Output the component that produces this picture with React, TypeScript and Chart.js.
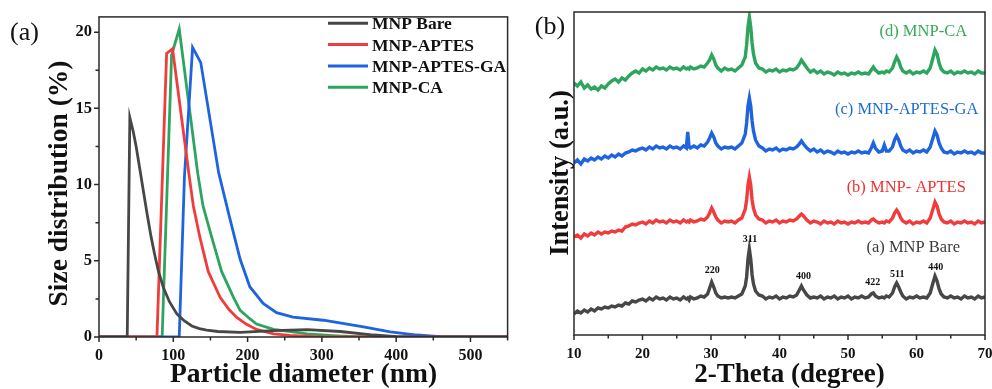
import React, { useEffect, useRef } from "react";
import { Chart, registerables } from "chart.js";

Chart.register(...registerables);

const SERIF = "'Liberation Serif', 'Times New Roman', Times, serif";

// ---------- Panel (a): DLS size distribution ----------
const dlsNames = ["MNP Bare", "MNP-APTES", "MNP-APTES-GA", "MNP-CA"];
const dlsColors = ["#474747", "#f03c3c", "#1e64e0", "#2ea55e"];

const bareX = [0, 38, 41.5, 46, 50, 55, 60, 65, 70, 75, 80, 87, 95, 105, 115, 125, 135, 145, 160, 190, 235, 280, 325, 370, 400, 420, 550];
const bareY = [0, 0, 14.4, 13.5, 12.5, 11.0, 9.5, 8.0, 6.6, 5.4, 4.3, 3.2, 2.3, 1.5, 1.05, 0.72, 0.55, 0.45, 0.36, 0.3, 0.42, 0.48, 0.36, 0.13, 0.03, 0, 0];

const aptesX = [0, 78, 91, 99, 121, 127, 136, 147, 163, 175, 185, 198, 212, 235, 257, 290, 320, 550];
const aptesY = [0, 0, 18.6, 18.9, 10.7, 8.6, 6.5, 4.3, 2.6, 1.8, 1.3, 0.85, 0.5, 0.2, 0.1, 0.02, 0, 0];

const gaX = [0, 108, 115, 126, 137, 161, 175, 190, 203, 221, 239, 261, 302, 356, 392, 428, 459, 475, 550];
const gaY = [0, 0, 10.5, 19.0, 18.0, 10.8, 8.0, 5.1, 3.3, 2.2, 1.6, 1.31, 1.1, 0.66, 0.34, 0.13, 0.03, 0, 0];

const caX = [0, 85, 97.7, 108, 133, 140, 152, 165, 181, 190, 203, 212, 235, 266, 280, 320, 360, 550];
const caY = [0, 0, 18.5, 20.2, 10.7, 8.6, 6.5, 4.3, 2.6, 1.75, 1.2, 0.85, 0.5, 0.3, 0.2, 0.08, 0, 0];

const sizeMajorTicks = [0, 100, 200, 300, 400, 500];
const sizeMinorTicks = [50, 150, 250, 350, 450, 550];
const distMajorTicks = [0, 5, 10, 15, 20];
const distMinorTicks = [2.5, 7.5, 12.5, 17.5];

// ---------- Panel (b): XRD patterns ----------
const theta = [
  10, 10.5, 11, 11.5, 12, 12.5, 13, 13.5, 14, 14.5,
  15, 15.5, 16, 16.5, 17, 17.5, 18, 18.5, 19, 19.5,
  20, 20.5, 21, 21.5, 22, 22.5, 23, 23.5, 24, 24.5,
  25, 25.5, 26, 26.4, 26.6, 26.8, 27, 27.5, 28, 28.5,
  29, 29.5, 29.8, 30.1, 30.4, 30.7, 31, 31.5, 32, 32.5,
  33, 33.5, 34, 34.5, 35, 35.2, 35.4, 35.6, 35.8, 36,
  36.2, 36.5, 37, 37.5, 38, 38.5, 39, 39.5, 40, 40.5,
  41, 41.5, 42, 42.5, 42.9, 43.2, 43.5, 44, 44.5, 45,
  45.5, 46, 46.5, 47, 47.5, 48, 48.5, 49, 49.5, 50,
  50.5, 51, 51.5, 52, 52.5, 53, 53.4, 53.7, 54, 54.5,
  55, 55.3, 55.6, 56, 56.5, 56.8, 57.1, 57.4, 57.7, 58,
  58.5, 59, 59.5, 60, 60.5, 61, 61.5, 62, 62.4, 62.7,
  63, 63.3, 63.6, 64, 64.5, 65, 65.5, 66, 66.5, 67,
  67.5, 68, 68.5, 69, 69.5, 70,
];

const xrdBare = [
  21, 24, 22, 25, 23, 26, 24, 27, 26, 28,
  27, 29, 28, 30, 29, 32, 31, 34, 33, 35,
  36, 34, 37, 35, 38, 36, 37, 35, 38, 36,
  37, 35, 38, 36, 37, 35, 38, 36, 37, 39,
  38, 41, 47, 53, 48, 42, 39, 37, 38, 37,
  38, 37, 39, 41, 49, 58, 76, 86, 76, 60,
  51, 44, 40, 39, 36, 38, 37, 39, 36, 38,
  37, 39, 38, 40, 45, 49, 45, 40, 37, 38,
  37, 39, 36, 38, 37, 39, 36, 38, 37, 39,
  36, 38, 37, 39, 37, 38, 41, 42, 39, 37,
  38, 37, 39, 38, 42, 48, 52, 48, 43, 39,
  36, 38, 37, 39, 37, 38, 37, 42, 52, 59,
  54, 46, 41, 38, 37, 39, 37, 38, 36, 39,
  37, 38, 36, 39, 37, 38,
];

const xrdAptes = [
  98, 100, 97, 101, 99, 102, 100, 103, 101, 103,
  102, 104, 103, 105, 104, 108, 109, 111, 110, 112,
  113, 111, 114, 112, 115, 113, 114, 112, 115, 113,
  114, 112, 115, 113, 114, 113, 115, 113, 114, 116,
  115, 118, 122, 127, 123, 118, 115, 112, 114, 113,
  114, 112, 115, 117, 126, 135, 150, 158, 150, 135,
  127, 120, 116, 115, 112, 114, 113, 115, 112, 114,
  113, 115, 114, 116, 119, 121, 119, 115, 112, 114,
  113, 111, 114, 112, 113, 111, 114, 112, 113, 111,
  113, 112, 114, 112, 113, 112, 115, 116, 114, 112,
  113, 112, 114, 113, 117, 122, 125, 122, 117, 114,
  112, 114, 111, 113, 112, 114, 112, 117, 126, 133,
  129, 121, 116, 113, 112, 114, 111, 113, 112, 114,
  112, 113, 111, 114, 112, 113,
];

const xrdGa = [
  172, 175, 171, 176, 174, 177, 175, 178, 176, 179,
  177, 180, 178, 181, 179, 182, 183, 185, 184, 186,
  187, 185, 188, 186, 189, 187, 188, 186, 189, 187,
  188, 186, 189, 187, 203, 188, 187, 189, 187, 190,
  189, 193, 197, 202, 198, 192, 189, 186, 188, 187,
  188, 186, 189, 192, 201, 212, 229, 237, 229, 214,
  204, 195, 189, 187, 184, 186, 185, 187, 184, 186,
  185, 187, 186, 188, 191, 194, 191, 187, 184, 186,
  183, 185, 182, 184, 183, 181, 184, 182, 183, 181,
  183, 182, 184, 182, 183, 182, 187, 192, 187, 183,
  184, 190, 184, 184, 188, 195, 199, 195, 189, 185,
  183, 185, 182, 184, 183, 185, 183, 188, 197, 204,
  200, 192, 187, 183, 182, 184, 181, 183, 182, 184,
  182, 183, 181, 184, 182, 182,
];

const xrdCa = [
  252, 249, 253, 247, 250, 246, 248, 245, 249, 247,
  251, 254, 256, 253, 257, 255, 259, 262, 264, 262,
  266, 264, 267, 265, 268, 266, 267, 265, 268, 266,
  267, 265, 268, 266, 267, 266, 268, 266, 267, 269,
  268, 272, 275, 280, 276, 270, 267, 264, 267, 265,
  266, 264, 267, 270, 278, 290, 308, 318, 308, 292,
  281, 272, 267, 266, 263, 265, 264, 266, 263, 265,
  264, 266, 265, 267, 271, 275, 272, 267, 263, 265,
  262, 264, 261, 263, 262, 260, 263, 261, 262, 260,
  262, 261, 263, 261, 262, 261, 265, 268, 265, 262,
  263, 262, 264, 263, 267, 273, 278, 274, 268, 264,
  262, 264, 261, 263, 262, 264, 262, 267, 277, 285,
  281, 272, 266, 263, 262, 264, 261, 263, 262, 264,
  262, 263, 261, 264, 262, 262,
];

const xrdNames = ["(a) MNP Bare", "(b) MNP- APTES", "(c) MNP-APTES-GA", "(d) MNP-CA"];
const xrdColors = ["#474747", "#f03c3c", "#1e64e0", "#2ea55e"];
const xrdTextColors = ["#3c3c3c", "#f03232", "#1e6ed2", "#34aa5c"];
const xrdLabelTheta = [52.7, 49.8, 48.1, 54.6];
const xrdLabelY = [87, 147, 225, 303];

const hklLabels = ["220", "311", "400", "422", "511", "440"];
const hklTheta = [30.2, 35.7, 43.5, 53.6, 57.2, 62.8];
const hklY = [65, 96, 59, 53, 61, 68];

const thetaMajorTicks = [10, 20, 30, 40, 50, 60, 70];
const thetaMinorTicks = [15, 25, 35, 45, 55, 65];

// ---------- helpers ----------
function drawText(ctx, s, x, y, font, color, align = "left", baseline = "middle", rot = 0) {
  ctx.save();
  ctx.font = font;
  ctx.fillStyle = color;
  ctx.textAlign = align;
  ctx.textBaseline = baseline;
  ctx.translate(x, y);
  if (rot) ctx.rotate(rot);
  ctx.fillText(s, 0, 0);
  ctx.restore();
}

function drawFrame(chart, xMajor, xMinor, yMajor, yMinor) {
  const { ctx, chartArea: a, scales } = chart;
  ctx.save();
  ctx.strokeStyle = "#2a2a2a";
  ctx.lineWidth = 1.5;
  ctx.strokeRect(a.left, a.top, a.right - a.left, a.bottom - a.top);
  ctx.beginPath();
  xMajor.forEach((v) => {
    const p = scales.x.getPixelForValue(v);
    ctx.moveTo(p, a.bottom);
    ctx.lineTo(p, a.bottom + 5);
  });
  xMinor.forEach((v) => {
    const p = scales.x.getPixelForValue(v);
    ctx.moveTo(p, a.bottom);
    ctx.lineTo(p, a.bottom + 3.5);
  });
  if (yMajor) {
    yMajor.forEach((v) => {
      const p = scales.y.getPixelForValue(v);
      ctx.moveTo(a.left, p);
      ctx.lineTo(a.left - 5, p);
    });
    yMinor.forEach((v) => {
      const p = scales.y.getPixelForValue(v);
      ctx.moveTo(a.left, p);
      ctx.lineTo(a.left - 3.5, p);
    });
  }
  ctx.stroke();
  ctx.restore();
}

const leftDecor = {
  id: "leftDecor",
  afterDraw(chart) {
    const ctx = chart.ctx;
    drawFrame(chart, sizeMajorTicks, sizeMinorTicks, distMajorTicks, distMinorTicks);
    drawText(ctx, "(a)", 24.5, 33, `26px ${SERIF}`, "#111", "center", "middle");
    drawText(ctx, "Size distribution (%)", 67, 183.5, `bold 27.5px ${SERIF}`, "#111", "center", "alphabetic", -Math.PI / 2);
    drawText(ctx, "Particle diameter (nm)", 303.5, 382, `bold 27.5px ${SERIF}`, "#111", "center", "alphabetic");
    dlsNames.forEach((name, i) => {
      const y = 23.3 + i * 21.3;
      ctx.save();
      ctx.strokeStyle = dlsColors[i];
      ctx.lineWidth = 3;
      ctx.beginPath();
      ctx.moveTo(328, y);
      ctx.lineTo(368, y);
      ctx.stroke();
      ctx.restore();
      drawText(ctx, name, 372, y + 6, `bold 17.5px ${SERIF}`, "#111", "left", "alphabetic");
    });
  },
};

const rightDecor = {
  id: "rightDecor",
  afterDraw(chart) {
    const ctx = chart.ctx;
    const { scales } = chart;
    drawFrame(chart, thetaMajorTicks, thetaMinorTicks, null, null);
    drawText(ctx, "(b)", 35, 27, `26px ${SERIF}`, "#111", "center", "middle");
    drawText(ctx, "Intensity (a.u.)", 53, 173, `bold 26.5px ${SERIF}`, "#111", "center", "alphabetic", -Math.PI / 2);
    drawText(ctx, "2-Theta (degree)", 274.5, 382, `bold 27px ${SERIF}`, "#111", "center", "alphabetic");
    xrdNames.forEach((name, i) => {
      drawText(
        ctx,
        name,
        scales.x.getPixelForValue(xrdLabelTheta[i]),
        scales.y.getPixelForValue(xrdLabelY[i]),
        `16.5px ${SERIF}`,
        xrdTextColors[i],
        "left",
        "middle"
      );
    });
    hklLabels.forEach((lab, i) => {
      drawText(
        ctx,
        lab,
        scales.x.getPixelForValue(hklTheta[i]),
        scales.y.getPixelForValue(hklY[i]),
        `bold 10px ${SERIF}`,
        "#111",
        "center",
        "middle"
      );
    });
  },
};

function pts(xs, ys) {
  return xs.map((x, i) => ({ x, y: ys[i] }));
}

function makeLeftConfig() {
  const sets = [
    [bareX, bareY],
    [aptesX, aptesY],
    [gaX, gaY],
    [caX, caY],
  ];
  return {
    type: "line",
    data: {
      datasets: sets.map(([xs, ys], i) => ({
        label: dlsNames[i],
        data: pts(xs, ys),
        borderColor: dlsColors[i],
        borderWidth: 2.8,
        pointRadius: 0,
        tension: 0,
        fill: false,
      })),
    },
    options: {
      responsive: false,
      animation: false,
      events: [],
      layout: { padding: { left: 0, top: 12, right: 7.4, bottom: 0 } },
      plugins: { legend: { display: false }, tooltip: { enabled: false } },
      scales: {
        x: {
          type: "linear",
          min: 0,
          max: 550,
          grid: { display: false, drawTicks: false },
          border: { display: false },
          ticks: {
            stepSize: 100,
            includeBounds: false,
            padding: 9,
            color: "#111",
            font: { family: SERIF, size: 16, weight: "bold" },
          },
          afterFit: (s) => {
            s.height = 52;
          },
        },
        y: {
          type: "linear",
          min: 0,
          max: 21,
          grid: { display: false, drawTicks: false },
          border: { display: false },
          ticks: {
            stepSize: 5,
            includeBounds: false,
            padding: 7,
            color: "#111",
            font: { family: SERIF, size: 16.5, weight: "bold" },
          },
          afterFit: (s) => {
            s.width = 99;
          },
        },
      },
    },
    plugins: [leftDecor],
  };
}

function makeRightConfig() {
  const series = [xrdBare, xrdAptes, xrdGa, xrdCa];
  return {
    type: "line",
    data: {
      datasets: series.map((ys, i) => ({
        label: xrdNames[i],
        data: pts(theta, ys),
        borderColor: xrdColors[i],
        borderWidth: 3.4,
        pointRadius: 0,
        tension: 0,
        fill: false,
      })),
    },
    options: {
      responsive: false,
      animation: false,
      events: [],
      layout: { padding: { left: 59, top: 12, right: 25, bottom: 0 } },
      plugins: { legend: { display: false }, tooltip: { enabled: false } },
      scales: {
        x: {
          type: "linear",
          min: 10,
          max: 70,
          grid: { display: false, drawTicks: false },
          border: { display: false },
          ticks: {
            stepSize: 10,
            padding: 10,
            color: "#111",
            font: { family: SERIF, size: 15, weight: "bold" },
          },
          afterFit: (s) => {
            s.height = 54;
          },
        },
        y: { type: "linear", display: false, min: 0, max: 323 },
      },
    },
    plugins: [rightDecor],
  };
}

function ChartCanvas({ width, height, left, makeConfig }) {
  const ref = useRef(null);
  useEffect(() => {
    const chart = new Chart(ref.current, makeConfig());
    return () => chart.destroy();
  }, []);
  return (
    <canvas
      ref={ref}
      width={width}
      height={height}
      style={{ position: "absolute", left, top: 0, width, height }}
    />
  );
}

export default function App() {
  return (
    <div
      style={{
        position: "fixed",
        left: 0,
        top: 0,
        width: 992,
        height: 389,
        overflow: "hidden",
        background: "#fff",
      }}
    >
      <ChartCanvas width={515} height={389} left={0} makeConfig={makeLeftConfig} />
      <ChartCanvas width={495} height={389} left={515} makeConfig={makeRightConfig} />
    </div>
  );
}
